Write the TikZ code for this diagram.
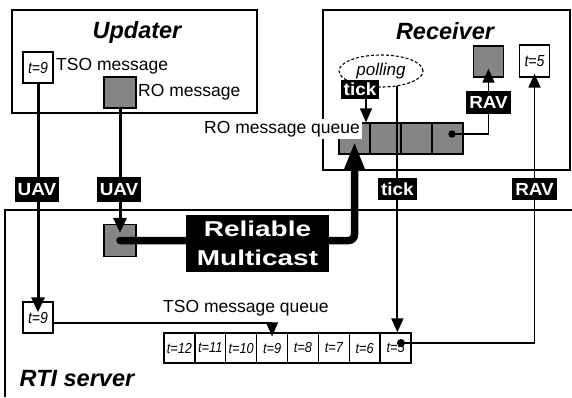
\documentclass[tikz,border=0pt]{standalone}
\usepackage{fontspec}
\setmainfont{Liberation Sans}
\newfontfamily\condsans{Liberation Sans}[FakeStretch=0.88]
\newfontfamily\widesans{Liberation Sans}[FakeStretch=1.3]
\newfontfamily\labsans{Liberation Sans}[FakeStretch=1.08]
\usetikzlibrary{arrows.meta,shapes.geometric}
\begin{document}
\begin{tikzpicture}[x=1pt,y=-1pt,
  frame/.style={draw,line width=1.5pt},
  title/.style={font=\fontsize{23.5}{27}\selectfont\bfseries\itshape,anchor=base,inner sep=0pt},
  txt/.style={font=\fontsize{17.5}{20}\selectfont,anchor=base west,inner sep=0pt},
  tbox/.style={draw,line width=1.4pt,fill=white,inner sep=0pt,minimum width=30pt,minimum height=31pt,font=\condsans\itshape\fontsize{16}{18}\selectfont},
  gbox/.style={draw,line width=1.4pt,fill=black!48,inner sep=0pt,minimum width=31pt,minimum height=31pt},
  cell/.style={draw,line width=1.4pt,fill=white,inner sep=0pt,minimum width=30.9pt,minimum height=30pt,font=\condsans\itshape\fontsize{14.5}{16}\selectfont},
  gcell/.style={draw,line width=1.4pt,fill=black!48,inner sep=0pt,minimum width=31pt,minimum height=31pt},
  lab/.style={fill=black,text=white,font=\labsans\bfseries\fontsize{17.5}{20}\selectfont,inner xsep=3pt,inner ysep=0pt,minimum height=22pt},
  thickline/.style={line width=3pt},
  medline/.style={line width=1.8pt},
  thinline/.style={line width=1.4pt},
  tip/.style={-{Triangle[length=14pt,width=12pt]}},
  bigtip/.style={-{Triangle[length=15pt,width=13pt]}}
]
\useasboundingbox (0,0) rectangle (572,397);

% frames
\draw[frame] (12,10) rectangle (257,113);
\draw[frame] (323,10) rectangle (570,170);
\draw[frame] (5,397) -- (5,210) -- (572,210);

% titles and texts
\node[title] (tUpd) at (137,38) {Updater};
\node[title] (tRec) at (445,39) {Receiver};
\node[title] (tRTI) at (77,386) {RTI server};
\node[txt] (tTSO) at (56,70) {TSO message};
\node[txt] (tRO) at (138,96) {RO message};
\node[txt] (tTSOq) at (163,312) {TSO message queue};

% boxes
\node[tbox] (t9u) at (38,67.5) {t=9};
\node[gbox,minimum width=32pt] (rou) at (120,92.5) {};
\node[tbox] (t9r) at (38,317.5) {t=9};
\node[gbox,minimum width=32pt,minimum height=32pt] (ror) at (120,240.5) {};
\node[gbox,minimum width=30pt] (rgray) at (488.5,61.5) {};
\node[tbox,minimum height=32pt] (t5u) at (534.5,61) {t=5};

\foreach \i/\t in {1/12,2/11,3/10,4/9,5/8,6/7,7/6,8/5}
  \node[cell] (q\i) at ({164+30.875*(\i-0.5)},348) {t=\t};
\foreach \i in {1,...,4}
  \node[gcell] (r\i) at ({339+31*(\i-0.5)},138.5) {};

\node[txt,fill=white,inner sep=2pt] (tROq) at (202,133) {RO message queue};

\node[draw,dashed,dash pattern=on 3pt off 2pt,line width=1.1pt,ellipse,minimum width=84pt,minimum height=32pt,inner sep=0pt,font=\itshape\fontsize{17}{19}\selectfont] (polling) at (381,71) {polling};

% connectors
\draw[thickline,bigtip,shorten >=-11pt] (t9u.south) -- (t9r.north);
\draw[thickline,bigtip,shorten >=-9pt] (rou.south) -- (ror.north);
\draw[thinline,tip,shorten >=-4pt] ([yshift=-5.5pt]t9r.east) -| (q4.north);
\draw[line width=7.5pt,line cap=round,rounded corners=6pt,-{Triangle[length=28pt,width=19pt]},shorten >=-13pt] (ror.center) -| (r1.south);

\coordinate (pA) at (polling.-43);
\draw[medline,tip] (pA) -- (pA |- q8.north);

\coordinate (d1) at (452,134);
\coordinate (d2) at (401,343);
\fill (d1) circle[radius=3.7pt];
\fill (d2) circle[radius=4pt];

% labels
\node[lab,minimum height=19pt] (tickA) at (360,89.5) {tick};
\node[lab,minimum height=25pt] (uav1) at (37,189.5) {UAV};
\node[lab,minimum height=25pt] (uav2) at (119,189.5) {UAV};
\node[lab] (tickB) at (pA |- 0,189) {tick};
\node[lab,minimum height=23pt] (ravA) at (488.5,102.5) {RAV};
\node[lab] (ravB) at (534.5,189) {RAV};
\node[fill=black,text=white,font=\widesans\bfseries\fontsize{21.5}{29}\selectfont,align=center,minimum width=143pt,minimum height=57pt,inner sep=0pt] (rm) at (257.5,243.5) {Reliable\\Multicast};

\coordinate (tA) at ([xshift=6pt]tickA.south);
\draw[medline,tip] (tA) -- (tA |- r1.north);
\draw[medline] (d1) -| (ravA.south);
\draw[medline,tip,shorten >=-9pt] (ravA.north) -- (rgray.south);
\draw[medline] (d2) -| (ravB.south);
\draw[medline,tip,shorten >=-4pt] (ravB.north) -- (t5u.south);
\end{tikzpicture}
\end{document}
